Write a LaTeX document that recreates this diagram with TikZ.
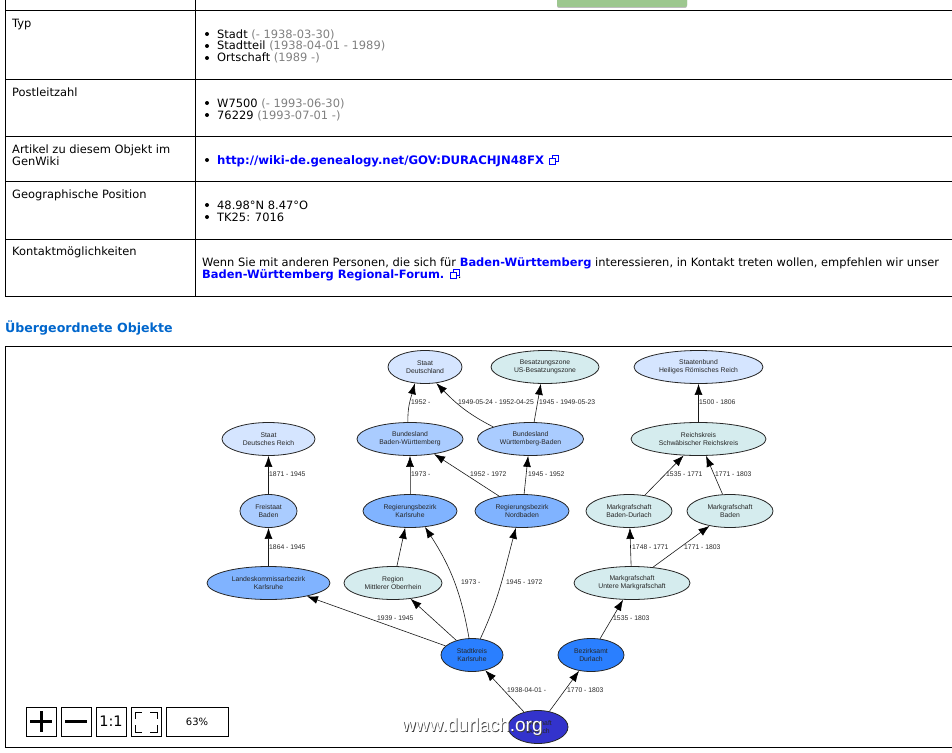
\documentclass[tikz,border=0pt]{standalone}
\usepackage{fontspec}
\usepackage[rgb]{xcolor}
\usetikzlibrary{shapes.geometric,arrows.meta}
\setmainfont{DejaVu Sans}
\newfontfamily\graphfont{Liberation Sans}

\definecolor{ortcolor}{HTML}{3333CC}
\definecolor{kreiscolor}{HTML}{2A7FFF}
\definecolor{bezirkcolor}{HTML}{80B3FF}
\definecolor{landcolor}{HTML}{AACCFF}
\definecolor{staatcolor}{HTML}{D5E5FF}
\definecolor{paleteal}{HTML}{D5ECEE}
\definecolor{headblue}{HTML}{0066CC}
\definecolor{linkblue}{HTML}{0000FF}
\definecolor{buttongreen}{HTML}{9DC78F}

\tikzset{
 gov/.style={draw=black!85, ellipse, thick, inner sep=0pt, align=center, minimum height=33pt,
  text=black!85, font=\graphfont\fontsize{6.8}{8.3}\selectfont},
 datum/.style={anchor=west, inner sep=0pt, text=black!85, font=\graphfont\fontsize{6.8}{8}\selectfont},
 link/.style={draw=black!90, semithick, -{Latex[length=11pt,width=8pt,black]}},
 cell/.style={anchor=base west, inner sep=0pt, font=\fontsize{11.45}{13}\selectfont},
 rule/.style={draw=black, line width=0.9pt},
 knopf/.style={draw=black, line width=0.9pt, fill=white, inner sep=0pt, minimum height=29pt, minimum width=30pt}
}

\begin{document}
\begin{tikzpicture}[x=1pt, y=-1pt]
\useasboundingbox (0,0) rectangle (952,752);

% green button cut off at the top
\fill[black!25, rounded corners=2pt] (557,-4) rectangle (687,8);
\fill[buttongreen, rounded corners=2pt] (557,-4) rectangle (687,7);

% the table
\foreach \y in {10.5, 79.5, 136.5, 181.5, 239.5, 296.5}
 {
 \draw[rule] (5.5,\y) -- (952,\y);
 }
\draw[rule] (5.5,0) -- (5.5,296.5);
\draw[rule] (195.5,0) -- (195.5,296.5);

\path
(12,27.5) node[cell] (typ) {Typ}
(12,96.5) node[cell] (plz) {Postleitzahl}
(12,153.5) node[cell] (artikel) {Artikel zu diesem Objekt im}
(12,165.5) node[cell] (genwiki) {GenWiki}
(12,198.5) node[cell] (geopos) {Geographische Position}
(12,255.5) node[cell] (kontakt) {Kontaktmöglichkeiten};

\foreach \y in {34, 46, 58, 103, 115, 160, 205, 217}
 {
 \fill (207,\y) circle [radius=2];
 }

\path
(217,38) node[cell] (stadt) {Stadt \textcolor{black!50}{(- 1938-03-30)}}
(217,50) node[cell] (stadtteil) {Stadtteil \textcolor{black!50}{(1938-04-01 - 1989)}}
(217,62) node[cell] (ortschaft) {Ortschaft \textcolor{black!50}{(1989 -)}}
(217,107) node[cell] (wplz) {W7500 \textcolor{black!50}{(- 1993-06-30)}}
(217,119) node[cell] (neuplz) {76229 \textcolor{black!50}{(1993-07-01 -)}}
(217,164) node[cell, text=linkblue, font=\fontsize{11.7}{13}\selectfont] (url) {\bfseries http://wiki-de.genealogy.net/GOV:DURACHJN48FX}
(217,209) node[cell] (koord) {48.98°N 8.47°O}
(217,221) node[cell] (tk) {TK25: 7016}
(202,266) node[cell] (wenn) {Wenn Sie mit anderen Personen, die sich für \textcolor{linkblue}{\bfseries Baden-Württemberg} interessieren, in Kontakt treten wollen, empfehlen wir unser}
(202,278) node[cell] (forum) {\textcolor{linkblue}{\bfseries Baden-Württemberg Regional-Forum.}\hspace{13.5pt}.};

% external link icons
\foreach \x/\y in {549/155, 450/269}
 {
 \draw[linkblue, line width=0.7pt] (\x+3,\y) rectangle ++(6,6);
 \draw[linkblue, line width=0.7pt, fill=white] (\x,\y+3) rectangle ++(6,6);
 }

\path (5,328.5) node[anchor=west, inner sep=0pt, text=headblue, font=\bfseries\fontsize{12.6}{14}\selectfont] (uebergeordnet) {Übergeordnete Objekte};

% the frame of the graph
\draw[rule] (952,346.5) -- (5.5,346.5) -- (5.5,747) -- (952,747);

\path
(425,367) node[gov, fill=staatcolor, minimum width=74pt] (staatd) {Staat\\Deutschland}
(545,367) node[gov, fill=paleteal, minimum width=108pt] (zone) {Besatzungszone\\US-Besatzungszone}
(698.5,367) node[gov, fill=staatcolor, minimum width=129pt] (bund) {Staatenbund\\Heiliges Römisches Reich}
(268.5,439) node[gov, fill=staatcolor, minimum width=93pt] (staatdr) {Staat\\Deutsches Reich}
(410,439) node[gov, fill=landcolor, minimum width=106pt] (bawue) {Bundesland\\Baden-Württemberg}
(530.5,439) node[gov, fill=landcolor, minimum width=106pt] (wueba) {Bundesland\\Württemberg-Baden}
(698.5,439) node[gov, fill=paleteal, minimum width=135pt] (reichskreis) {Reichskreis\\Schwäbischer Reichskreis}
(268.5,511) node[gov, fill=landcolor, minimum width=57pt] (freistaat) {Freistaat\\Baden}
(410,511) node[gov, fill=bezirkcolor, minimum width=94pt] (regka) {Regierungsbezirk\\Karlsruhe}
(522,511) node[gov, fill=bezirkcolor, minimum width=94pt] (regnb) {Regierungsbezirk\\Nordbaden}
(629,511) node[gov, fill=paleteal, minimum width=86pt] (baduda) {Markgrafschaft\\Baden-Durlach}
(730,511) node[gov, fill=paleteal, minimum width=86pt] (baden) {Markgrafschaft\\Baden}
(268.5,583) node[gov, fill=bezirkcolor, minimum width=123pt] (landes) {Landeskommissarbezirk\\Karlsruhe}
(393,583) node[gov, fill=paleteal, minimum width=98pt] (region) {Region\\Mittlerer Oberrhein}
(632,583) node[gov, fill=paleteal, minimum width=116pt] (untere) {Markgrafschaft\\Untere Markgrafschaft}
(472,655) node[gov, fill=kreiscolor, minimum width=62pt] (stadtkreis) {Stadtkreis\\Karlsruhe}
(591,655) node[gov, fill=kreiscolor, minimum width=66pt] (bezirksamt) {Bezirksamt\\Durlach}
(538,727) node[gov, fill=ortcolor, minimum width=60pt] (durlach) {Ortschaft\\Durlach};

% the links, always from the lower node to the upper one
\draw[link] (freistaat) -- (staatdr);
\draw[link] (landes) -- (freistaat);
\draw[link] (bawue.97) to[out=92, in=255] (staatd.238);
\draw[link] (wueba.162) to[out=153, in=314] (staatd.305);
\draw[link] (wueba.78) -- (zone.256);
\draw[link] (reichskreis) -- (bund);
\draw[link, draw=black!60] (regka) -- (bawue);
\draw[link] (regnb.147) -- (bawue.328);
\draw[link] (regnb.83) -- (wueba.262);
\draw[link] (baduda.45) -- (reichskreis.228);
\draw[link] (baden.114) -- (reichskreis.294);
\draw[link] (untere.93) -- (baduda.273);
\draw[link] (untere.37) -- (baden.216);
\draw[link] (region.77) -- (regka.254);
\draw[link] (stadtkreis.100) to[out=100, in=303] (regka.313);
\draw[link] (stadtkreis.63) to[out=65, in=255] (regnb.250);
\draw[link] (stadtkreis.137) -- (region.318);
\draw[link] (stadtkreis.161) -- (landes.341);
\draw[link] (bezirksamt.61) -- (untere.242);
\draw[link] (durlach.133) -- (stadtkreis.311);
\draw[link] (durlach.54) -- (bezirksamt.233);

\path
(269,474) node[datum] (d1) {1871 - 1945}
(269,547) node[datum] (d2) {1864 - 1945}
(411,402) node[datum] (d3) {1952 -}
(458,402) node[datum] (d4) {1949-05-24 - 1952-04-25}
(539,402) node[datum] (d5) {1945 - 1949-05-23}
(699,402) node[datum] (d6) {1500 - 1806}
(411,474) node[datum] (d7) {1973 -}
(470,474) node[datum] (d8) {1952 - 1972}
(528,474) node[datum] (d9) {1945 - 1952}
(666,474) node[datum] (d10) {1535 - 1771}
(715,474) node[datum] (d11) {1771 - 1803}
(632,547) node[datum] (d12) {1748 - 1771}
(684,547) node[datum] (d13) {1771 - 1803}
(461,582) node[datum] (d14) {1973 -}
(506,582) node[datum] (d15) {1945 - 1972}
(377,618) node[datum] (d16) {1939 - 1945}
(613,618) node[datum] (d17) {1535 - 1803}
(507,690) node[datum] (d18) {1938-04-01 -}
(567,690) node[datum] (d19) {1770 - 1803};

% zoom buttons
\path
(41,721.5) node[knopf] (plus) {}
(76,721.5) node[knopf] (minus) {}
(111,721.5) node[knopf, font=\fontsize{14.5}{16}\selectfont] (eins) {1:1}
(146,721.5) node[knopf] (fit) {}
(197,721.5) node[knopf, minimum width=62pt, font=\fontsize{10}{12}\selectfont] (prozent) {63\%};

\draw[line width=3pt] (30,721.5) -- (52,721.5) (41,711) -- (41,732);
\draw[line width=3pt] (65,721.5) -- (87,721.5);
\draw[line width=0.9pt]
 (135,719) -- (135,712) -- (142,712)
 (150,712) -- (157,712) -- (157,719)
 (157,725) -- (157,732) -- (150,732)
 (142,732) -- (135,732) -- (135,725);

% watermark
\path (402.8,727.8) node[anchor=west, inner sep=0pt, text=black!75, font=\graphfont\fontsize{19}{21}\selectfont] (schatten) {www.durlach.org};
\path (402,727) node[anchor=west, inner sep=0pt, text=white, font=\graphfont\fontsize{19}{21}\selectfont] (wasserzeichen) {www.durlach.org};

\end{tikzpicture}
\end{document}
